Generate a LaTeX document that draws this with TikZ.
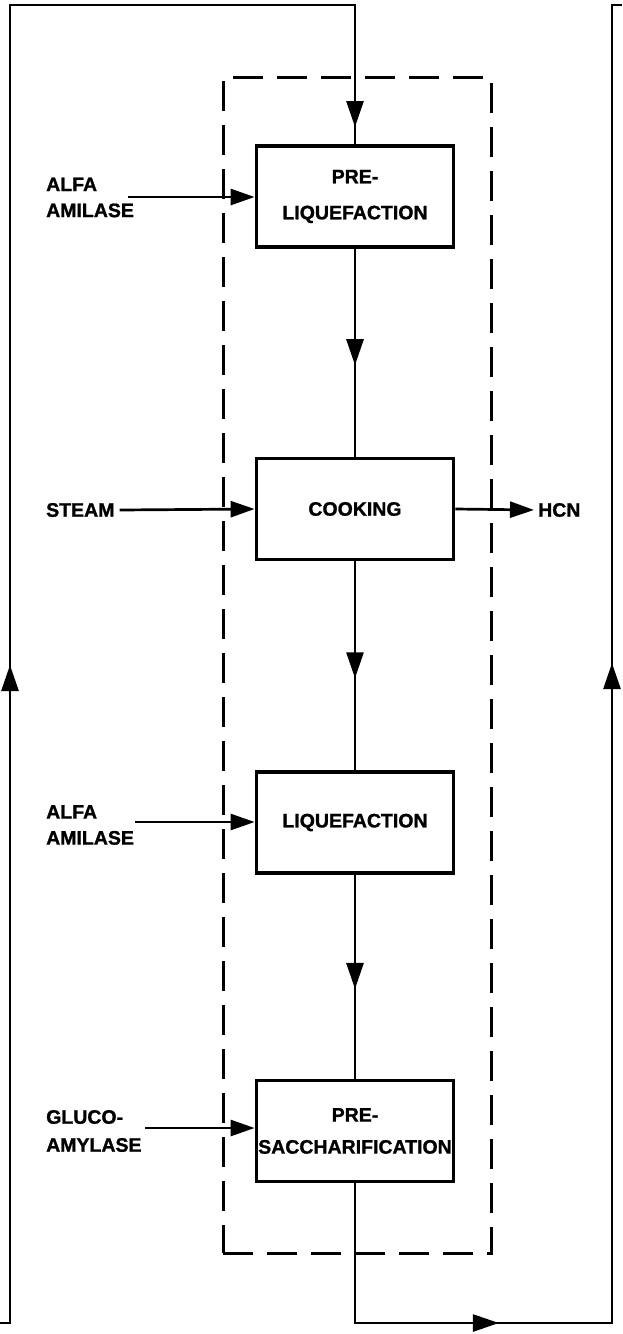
\documentclass[tikz,border=0pt]{standalone}
\usepackage{fontspec}
\setmainfont{Liberation Sans}[BoldFeatures={FakeBold=1.2}]
\usetikzlibrary{arrows.meta,decorations.markings}
\tikzset{
  proc/.style={draw, line width=3.8pt, minimum width=197pt, minimum height=101pt,
    inner sep=0pt, align=center, font=\bfseries\fontsize{19.5}{36}\selectfont},
  lbl/.style={inner sep=0pt, align=left, anchor=west, font=\bfseries\fontsize{19.5}{26}\selectfont},
  flow/.style={line width=2.7pt, line join=miter},
  vtip/.tip={Triangle[length=26pt,width=17pt]},
  htip/.tip={Triangle[length=24pt,width=16pt]},
  feed/.style={flow, -{htip}},
  midarrow/.style={flow, postaction={decorate},
    decoration={markings, mark=at position #1 with {\arrow{vtip}}}},
  twoarrows/.style 2 args={flow, postaction={decorate},
    decoration={markings, mark=at position #1 with {\arrow{vtip}},
                          mark=at position #2 with {\arrow{vtip}}}},
  grpframe/.style={draw, line width=3pt, dash pattern=on 30pt off 14pt, inner sep=0pt},
}
\begin{document}
\begin{tikzpicture}[x=1pt,y=-1pt]
\useasboundingbox (0,0) rectangle (622,1334);

% dashed group frame
\node[grpframe, minimum width=268pt, minimum height=1176pt] (grp) at (357,665) {};

% process boxes
\node[proc] (b1) at (355,196.5) {PRE-\\LIQUEFACTION};
\node[proc] (b2) at (355,509) {COOKING};
\node[proc] (b3) at (355,822.5) {LIQUEFACTION};
\node[proc, font=\bfseries\fontsize{19.5}{32}\selectfont] (b4) at (355,1131) {PRE-\\SACCHARIFICATION};

% input / output labels
\node[lbl] (a1) at (46,197.5) {ALFA\\AMILASE};
\node[lbl] (st) at (46,510) {STEAM};
\node[lbl] (a2) at (46,825) {ALFA\\AMILASE};
\node[lbl, font=\bfseries\fontsize{19.5}{28}\selectfont] (gl) at (46,1131) {GLUCO-\\AMYLASE};
\node[lbl] (hcn) at (538,510) {HCN};

% feed arrow start points
\coordinate (a1s) at (128,197);
\coordinate (a2s) at (135,822);
\coordinate (gls) at (145,1128);

\draw[feed] (a1s) -- (a1s -| b1.west);
\draw[feed] ([xshift=5pt]st.east) -- (b2.west);
\draw[feed] (a2s) -- (a2s -| b3.west);
\draw[feed] (gls) -- (gls -| b4.west);
\draw[feed, shorten >=4pt] (b2.east) -- (hcn.west);

% main flow
\draw[midarrow=0.56] (b1.south) -- (b2.north);
\draw[midarrow=0.56] (b2.south) -- (b3.north);
\draw[midarrow=0.56] (b3.south) -- (b4.north);

% left recycle loop
\coordinate (LB) at (0,1323);
\coordinate (LBc) at (10,1323);
\coordinate (LT) at (10,5);
\coordinate (TT) at (b1.north |- LT);
\draw[twoarrows={668pt}{1795pt}] (LB) -- (LBc) -- (LT) -- (TT) -- (b1.north);

% right loop
\coordinate (RB) at (b4.south |- LB);
\coordinate (RBc) at (612,1323);
\coordinate (RT) at (612,5);
\coordinate (RE) at (622,5);
\draw[twoarrows={283.5pt}{1056.5pt}] (b4.south) -- (RB) -- (RBc) -- (RT) -- (RE);
\end{tikzpicture}
\end{document}
